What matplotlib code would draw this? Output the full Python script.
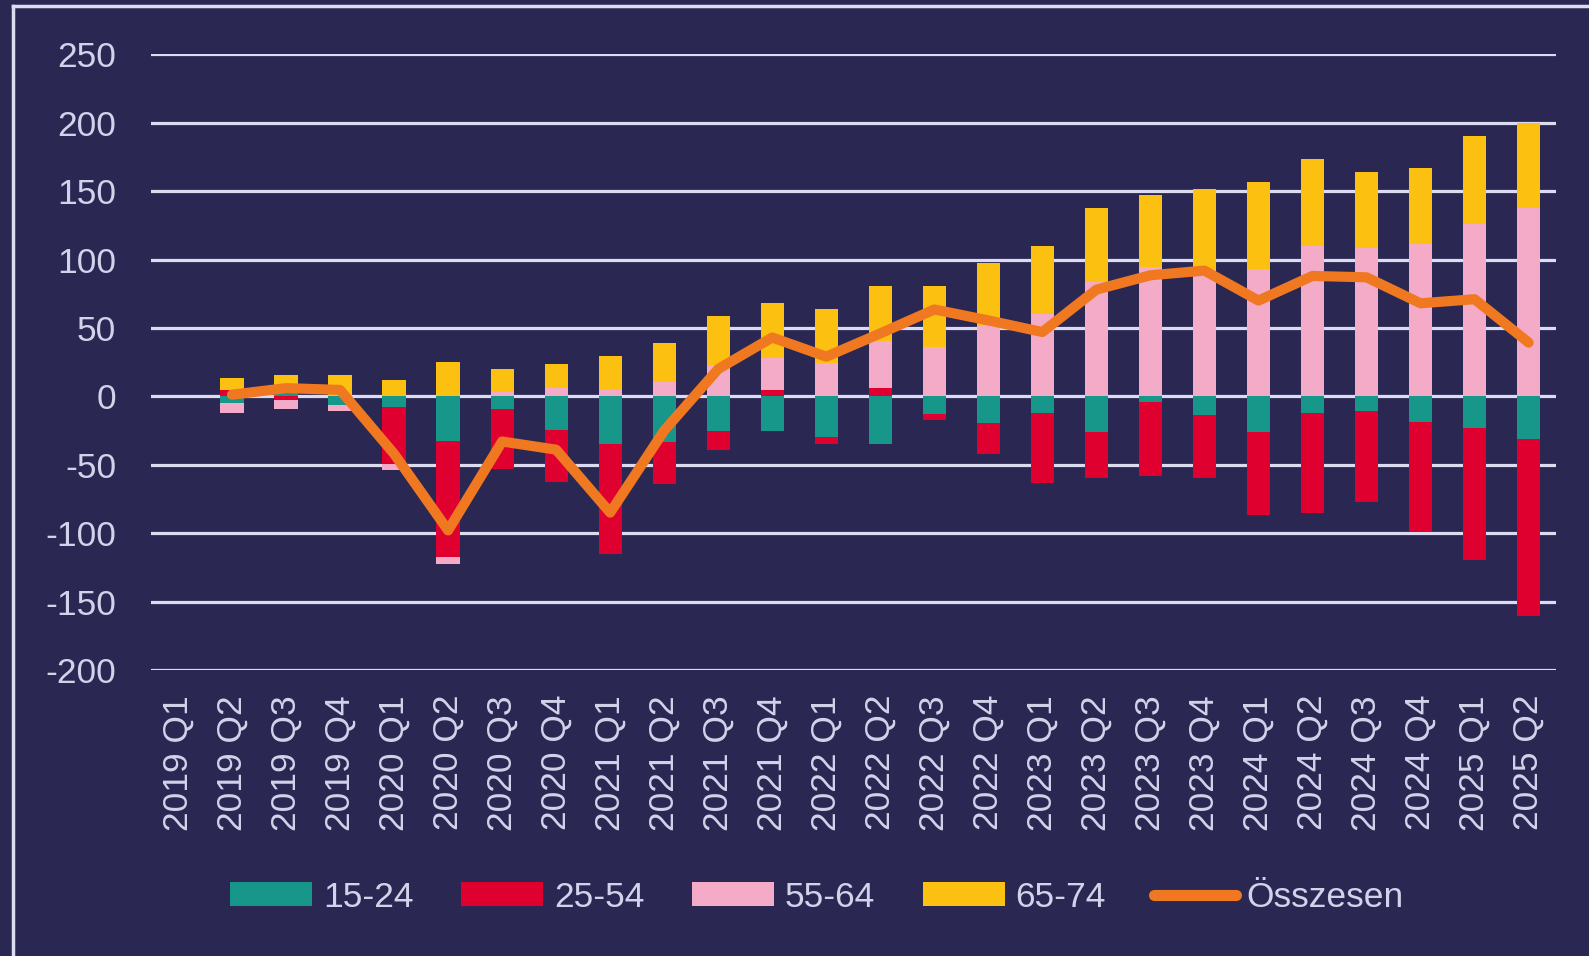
import numpy as np
import matplotlib
matplotlib.use("Agg")
import matplotlib.pyplot as plt
from matplotlib.lines import Line2D

plt.rcParams['font.family'] = ['Liberation Sans', 'DejaVu Sans']
plt.rcParams['axes.unicode_minus'] = False

categories = ["2019 Q1", "2019 Q2", "2019 Q3", "2019 Q4",
              "2020 Q1", "2020 Q2", "2020 Q3", "2020 Q4",
              "2021 Q1", "2021 Q2", "2021 Q3", "2021 Q4",
              "2022 Q1", "2022 Q2", "2022 Q3", "2022 Q4",
              "2023 Q1", "2023 Q2", "2023 Q3", "2023 Q4",
              "2024 Q1", "2024 Q2", "2024 Q3", "2024 Q4",
              "2025 Q1", "2025 Q2"]

age_15_24 = [np.nan, -4.7, 2.5, -6.4, -7.8, -32.8, -9.3, -24.8, -34.6, -33.2, -25.3, -25.3,
             -30.0, -34.6, -12.8, -19.2, -12.3, -26.2, -4.4, -13.8, -26.2, -12.3, -10.6, -18.5,
             -23.0, -30.9]
age_25_54 = [np.nan, 4.7, -3.0, 0.0, -42.0, -84.6, -43.6, -37.5, -80.4, -30.7, -14.0, 4.4,
             -4.6, 6.1, -4.4, -23.1, -50.9, -33.8, -53.9, -46.2, -60.2, -72.9, -66.7, -80.5,
             -96.3, -129.8]
age_55_64 = [np.nan, -7.8, -6.6, -4.4, -4.4, -5.4, 2.9, 5.9, 4.7, 10.7, 22.9, 23.4,
             24.6, 34.4, 35.9, 51.6, 60.2, 83.7, 94.3, 93.1, 93.1, 109.9, 108.4, 111.6,
             125.7, 137.5]
age_65_74 = [np.nan, 9.0, 12.9, 15.5, 12.3, 24.8, 17.2, 17.4, 25.0, 28.1, 36.1, 40.5,
             39.0, 40.3, 44.9, 46.2, 49.7, 54.1, 52.6, 58.8, 63.2, 63.4, 55.8, 55.6,
             64.7, 62.5]
osszesen = [np.nan, 1.2, 6.0, 4.7, -42.0, -98.0, -33.0, -39.0, -85.0, -25.0, 20.0, 43.0,
            29.0, 46.0, 63.5, 55.5, 47.0, 78.0, 88.5, 91.9, 70.0, 88.0, 87.0, 68.0,
            71.0, 39.3]

series_names = ["15-24", "25-54", "55-64", "65-74"]
series_vals = [age_15_24, age_25_54, age_55_64, age_65_74]
colors = ["#17968a", "#e0002f", "#f4abc7", "#fcc010"]
line_color = "#f07820"
bg = "#2a2853"
grid_c = "#dcdcf0"
text_c = "#d2d2ea"

fig = plt.figure(figsize=(15.89, 9.56), dpi=100, facecolor=bg)
ax = fig.add_axes([0.095, 0.2992, 0.884, 0.6440], facecolor=bg)

x = np.arange(len(categories))
pos_bottom = np.zeros(len(categories))
neg_bottom = np.zeros(len(categories))
handles = []
for name, vals, c in zip(series_names, series_vals, colors):
    v = np.nan_to_num(np.array(vals, dtype=float))
    b = np.where(v >= 0, pos_bottom, neg_bottom)
    h = ax.bar(x, v, bottom=b, width=0.43, color=c, zorder=3, label=name, linewidth=0)
    handles.append(h)
    pos_bottom = pos_bottom + np.where(v > 0, v, 0)
    neg_bottom = neg_bottom + np.where(v < 0, v, 0)

ln, = ax.plot(x, osszesen, color=line_color, lw=7.3, zorder=5,
              solid_joinstyle='round', solid_capstyle='round', label="Összesen")

ax.set_ylim(-200, 250)
ax.set_xlim(-0.5, len(categories) - 0.5)
ax.set_yticks(np.arange(-200, 251, 50))
ax.yaxis.grid(True, color=grid_c, lw=2.3, zorder=1)
ax.set_axisbelow(True)
for s in ax.spines.values():
    s.set_visible(False)
ax.tick_params(axis='both', length=0, colors=text_c, labelsize=25.5)
ax.tick_params(axis='y', pad=25)
ax.tick_params(axis='x', pad=18)
ax.set_xticks(x)
ax.set_xticklabels(categories, rotation=90, va='top', ha='center')

leg_handles = handles + [Line2D([0], [0], color=line_color, lw=8, solid_capstyle='round')]
leg = fig.legend(leg_handles, series_names + ["Összesen"], loc='center',
                 bbox_to_anchor=(0.514, 0.0615), ncol=5, frameon=False,
                 fontsize=25.5, handlelength=2.33, handleheight=0.65,
                 handletextpad=0.3, columnspacing=1.34, labelcolor=text_c)

# outer frame lines (left and top)
fig.add_artist(Line2D([13 / 1589, 13 / 1589], [0, 1 - 6 / 956], color=grid_c, lw=2.5,
                      transform=fig.transFigure))
fig.add_artist(Line2D([13 / 1589, 1], [1 - 6 / 956, 1 - 6 / 956], color=grid_c, lw=2.5,
                      transform=fig.transFigure))

fig.savefig("out.png", dpi=100, facecolor=bg)
